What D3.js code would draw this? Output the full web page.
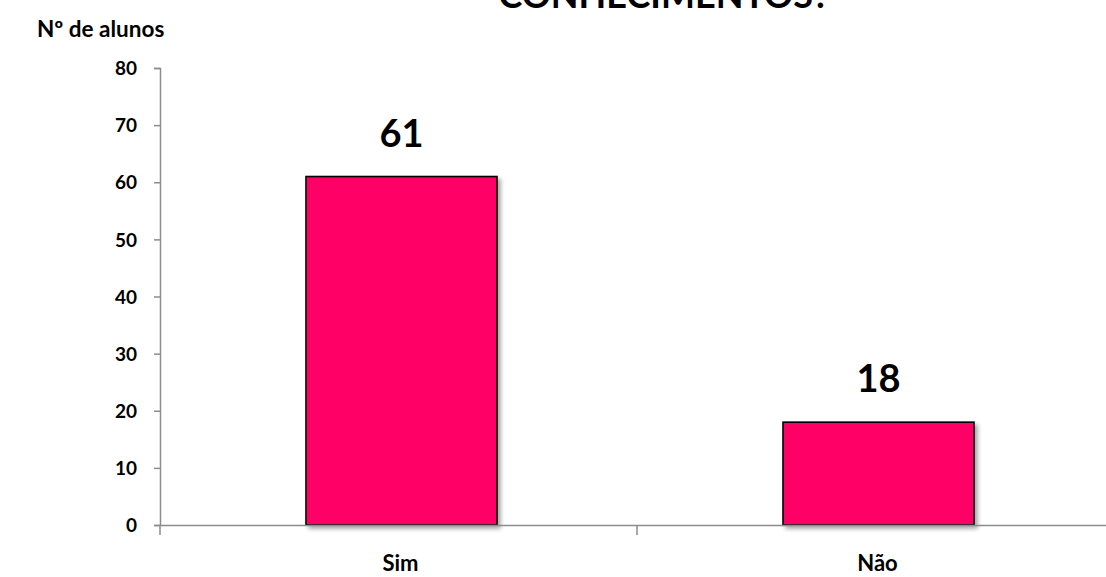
<!DOCTYPE html>
<html><head><meta charset="utf-8">
<script src="https://cdn.jsdelivr.net/npm/d3@7"></script>
<style>body{margin:0;background:#fff}svg{display:block;font-family:Lato,"Open Sans",sans-serif;font-weight:bold}</style>
</head><body>
<script>
const categories = ["Sim", "Não"];
const values = [61, 18];
const yTicks = [0, 10, 20, 30, 40, 50, 60, 70, 80];
const titleText = "CONHECIMENTOS?";
const yAxisTitle = "Nº de alunos";

const W = 1106, H = 577;
const svg = d3.select("body").append("svg").attr("width", W).attr("height", H);
const defs = svg.append("defs");
const f = defs.append("filter").attr("id","sh").attr("x","-10%").attr("y","-10%").attr("width","130%").attr("height","130%");
f.append("feGaussianBlur").attr("in","SourceAlpha").attr("stdDeviation",2);
f.append("feOffset").attr("dx",3).attr("dy",3).attr("result","b");
f.append("feComponentTransfer").append("feFuncA").attr("type","linear").attr("slope",0.35);
const m = f.append("feMerge"); m.append("feMergeNode"); m.append("feMergeNode").attr("in","SourceGraphic");

const x = d3.scaleBand().domain(categories).range([160, 1114]).paddingInner(0).paddingOuter(0);
const y = d3.scaleLinear().domain([0, 80]).range([525, 68]);
const axisColor = "#8c8c8c";

// bars
const bw = 191;
svg.selectAll("rect.bar").data(categories).enter().append("rect")
  .attr("x", d => x(d) + x.bandwidth()/2 - bw/2 + 3)
  .attr("y", (d,i) => y(values[i]))
  .attr("width", bw)
  .attr("height", (d,i) => y(0) - y(values[i]))
  .attr("fill", "#FF0066").attr("stroke", "#000").attr("stroke-width", 1.6)
  .attr("filter","url(#sh)");

// y axis
const ya = svg.append("g").attr("transform","translate(160,0)")
  .call(d3.axisLeft(y).tickValues(yTicks).tickSize(6).tickPadding(17));
ya.select(".domain").attr("stroke", axisColor).attr("stroke-width",1.5);
ya.selectAll(".tick line").attr("stroke", axisColor).attr("stroke-width",1.5);
ya.selectAll(".tick text").attr("fill","#000").style("font-size","19px").style("font-weight","bold").style("font-family","Lato,'Open Sans',sans-serif").attr("dy","0.35em");

// x axis
const xa = svg.append("g").attr("transform","translate(0,525)")
  .call(d3.axisBottom(x).tickSize(0).tickPadding(0));
xa.select(".domain").attr("stroke", axisColor).attr("stroke-width",1.5);
xa.selectAll(".tick text").attr("fill","#000").attr("y",46).attr("dy","0").attr("dx",2).style("font-size","22px").style("font-weight","bold").style("font-family","Lato,'Open Sans',sans-serif");
// band boundary ticks
svg.append("g").selectAll("line").data(categories.concat(["_end"])).enter().append("line")
  .attr("x1",(d,i)=> x.range()[0] + i*x.bandwidth()).attr("x2",(d,i)=> x.range()[0] + i*x.bandwidth())
  .attr("y1",525).attr("y2",535).attr("stroke",axisColor).attr("stroke-width",1.5);

// value labels
svg.selectAll("text.val").data(categories).enter().append("text")
  .attr("x", d => x(d) + x.bandwidth()/2 + 3)
  .attr("y", (d,i) => y(values[i]) - 30)
  .attr("text-anchor","middle").style("font-size","38px").text((d,i)=>values[i]);

// y title
svg.append("text").attr("x",37).attr("y",37).style("font-size","22.5px").text(yAxisTitle);

// chart title (clipped at top, as in the reference)
svg.append("text").attr("x",664).attr("y",8).attr("text-anchor","middle").style("font-size","36px").text(titleText);
</script>
</body></html>
